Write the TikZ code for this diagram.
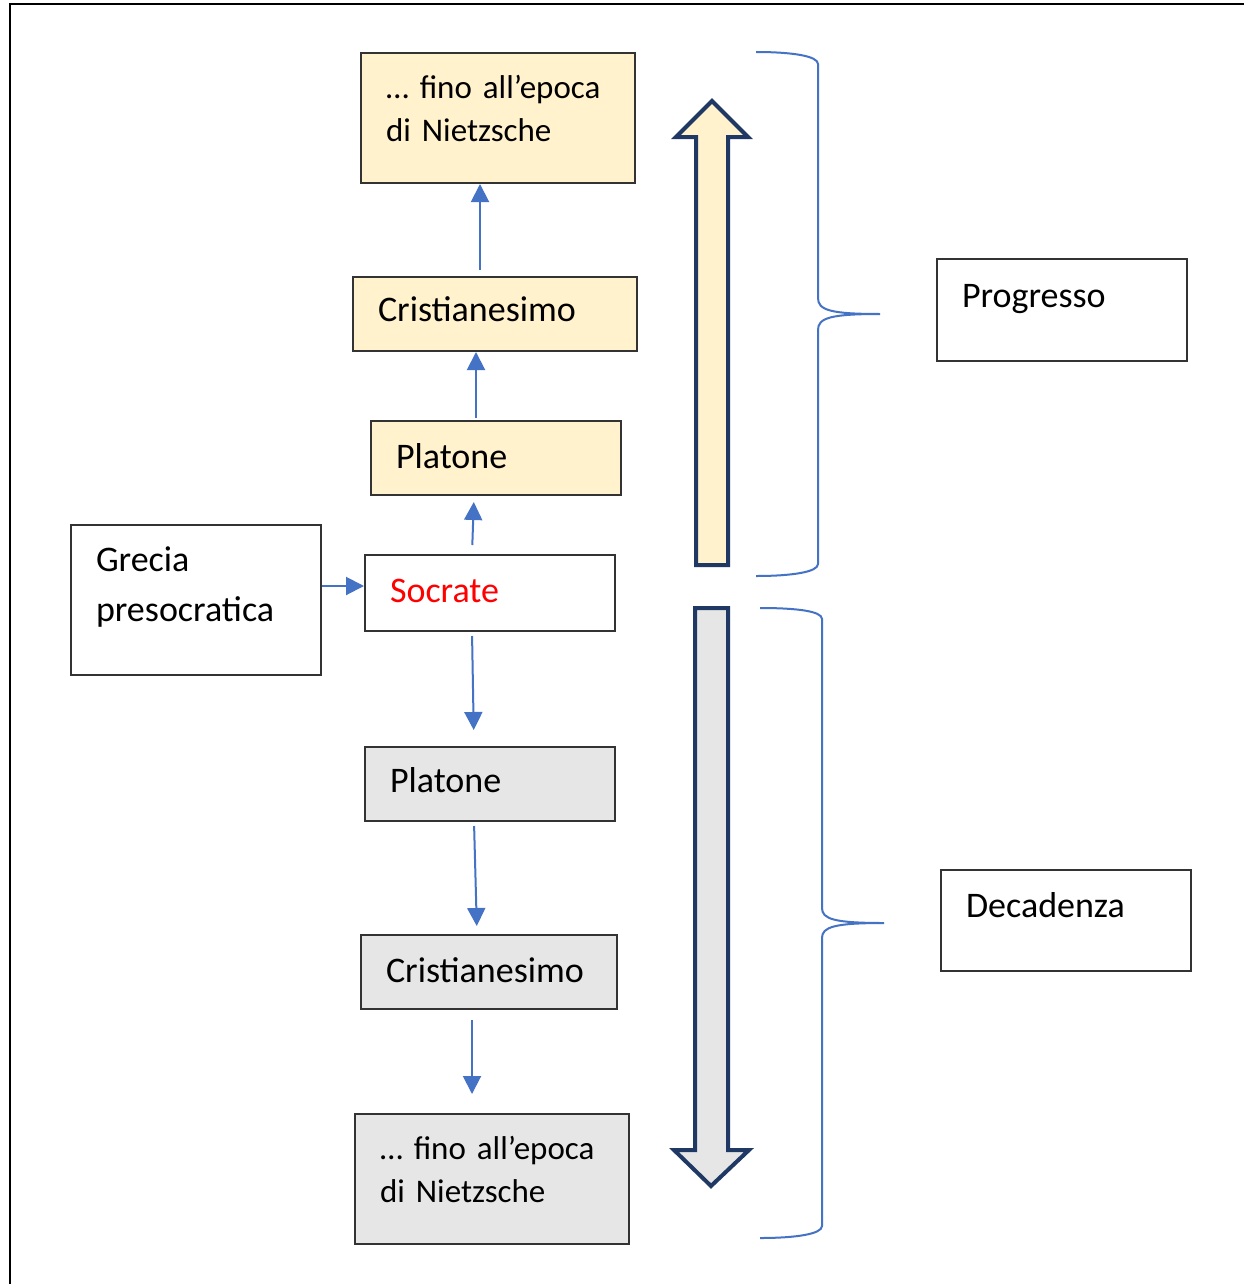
\documentclass[tikz,border=0pt]{standalone}
\usepackage{fontspec}
\setmainfont{Carlito}
\usetikzlibrary{arrows.meta}
\definecolor{lineblue}{HTML}{4472C4}
\definecolor{navy}{HTML}{1F3864}
\definecolor{yfill}{HTML}{FFF2CC}
\definecolor{gfill}{HTML}{E7E6E6}
\definecolor{bord}{HTML}{333333}
\tikzset{
  box/.style={draw=bord, line width=1pt, anchor=north west, inner ysep=0pt,
    inner xsep=12.5pt, align=left, font=\fontsize{18}{21.5}\selectfont},
  ybox/.style={box, fill=yfill},
  gbox/.style={box, fill=gfill},
  endbox/.style={font=\fontsize{16.5}{21.5}\selectfont},
  arr/.style={draw=lineblue, line width=1pt, -{Triangle[width=9pt,length=9pt]}},
  brace/.style={draw=lineblue, line width=1pt},
  bigarrow/.style={draw=navy, line width=2pt, line join=miter},
  frame/.style={draw=black, line width=1.2pt}
}
\begin{document}
\begin{tikzpicture}[x=0.5pt,y=-0.5pt]
\useasboundingbox (0,0) rectangle (1243,1284);
\fill[white] (0,0) rectangle (1243,1284);
\draw[frame] (1250,4) -- (10,4) -- (10,1290);

% boxes
\node[ybox, endbox, text width=112pt, text height=22.5pt, text depth=42.5pt] (nA) at (360,52) {\mbox{… fino all’epoca}\\di Nietzsche};
\node[ybox, text width=117pt, text height=22pt, text depth=15pt] (nB) at (352,276) {Cristianesimo};
\node[ybox, text width=100pt, text height=23.5pt, text depth=13.5pt] (nC) at (370,420) {Platone};
\node[box, fill=white, text width=100pt, text height=23.5pt, text depth=14.5pt, text=red] (nD) at (364,554) {Socrate};
\node[box, text width=100pt, text height=23pt, text depth=52pt, font=\fontsize{18}{25}\selectfont] (nE) at (70,524) {Grecia\\presocratica};
\node[gbox, text width=100pt, text height=22.5pt, text depth=14.5pt] (nF) at (364,746) {Platone};
\node[gbox, text width=103pt, text height=23.5pt, text depth=13.5pt] (nG) at (360,934) {Cristianesimo};
\node[gbox, endbox, text width=112pt, text height=22.5pt, text depth=42.5pt] (nH) at (354,1113) {\mbox{… fino all’epoca}\\di Nietzsche};
\node[box, text width=100pt, text height=24pt, text depth=27pt] (nP) at (936,258) {Progresso};
\node[box, text width=100pt, text height=23.5pt, text depth=27pt] (nQ) at (940,869) {Decadenza};

% small connectors
\draw[arr, shorten <=3pt] (nB.north -| 480,0) -- (nA.south -| 480,0);
\draw[arr, shorten <=1pt] (nC.north -| 476,0) -- (nB.south -| 476,0);
\draw[arr, shorten <=4.5pt, shorten >=3pt] (nD.north -| 472,0) -- (nC.south -| 474,0);
\draw[arr] (nE.east |- 0,586) -- (nD.west |- 0,586);
\draw[arr, shorten <=2pt, shorten >=8pt] (nD.south -| 472,0) -- (nF.north -| 474,0);
\draw[arr, shorten <=2pt, shorten >=4pt] (nF.south -| 474,0) -- (nG.north -| 477,0);
\draw[arr, shorten <=5pt, shorten >=9.5pt] (nG.south -| 472,0) -- (nH.north -| 472,0);

% big block arrows
\draw[bigarrow, fill=yfill] (696,565) -- (696,137) -- (676,137) -- (712,101) -- (748,137) -- (728,137) -- (728,565) -- cycle;
\draw[bigarrow, fill=gfill] (695,608) -- (695,1150) -- (674,1150) -- (711,1186) -- (749,1150) -- (728,1150) -- (728,608) -- cycle;

% braces
\draw[brace] (756,52) .. controls (792,52) and (818,56) .. (818,64) -- (818,298)
  .. controls (818,310) and (830,314) .. (880,314)
  .. controls (830,314) and (818,318) .. (818,330) -- (818,564)
  .. controls (818,572) and (792,576) .. (756,576);
\draw[brace] (760,608) .. controls (796,608) and (822,611) .. (822,619) -- (822,908)
  .. controls (822,919) and (834,923) .. (884,923)
  .. controls (834,923) and (822,927) .. (822,938) -- (822,1226)
  .. controls (822,1234) and (796,1238) .. (760,1238);
\end{tikzpicture}
\end{document}
